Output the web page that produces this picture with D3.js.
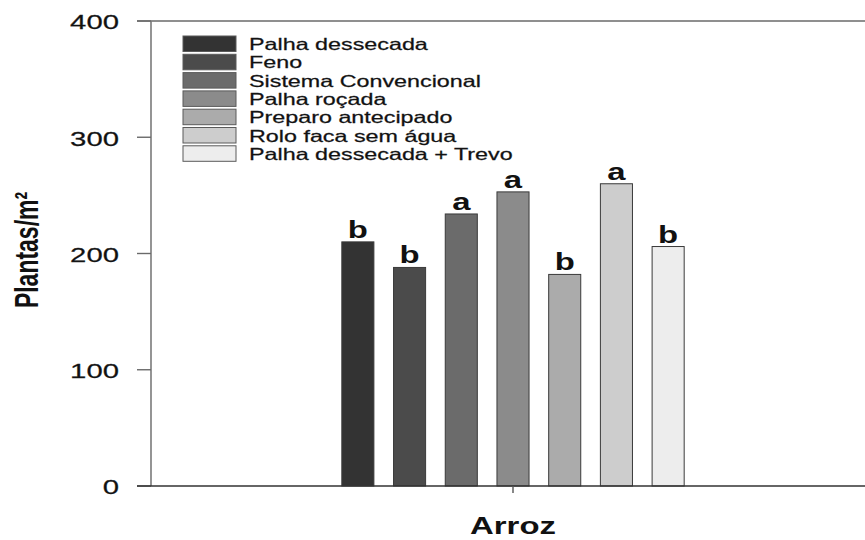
<!DOCTYPE html>
<html>
<head>
<meta charset="utf-8">
<script src="https://cdn.jsdelivr.net/npm/d3@7"></script>
<style>
  html, body { margin: 0; padding: 0; background: #fff; }
  svg { display: block; }
  text { font-family: "Liberation Sans", Arial, sans-serif; fill: #111; }
</style>
</head>
<body>
<svg id="chart" width="865" height="540"></svg>
<script>
// data
const categories = ["Arroz"];
const treatments = [
    "Palha dessecada",
    "Feno",
    "Sistema Convencional",
    "Palha roçada",
    "Preparo antecipado",
    "Rolo faca sem água",
    "Palha dessecada + Trevo"
];
const plantas = [210, 188, 234, 253, 182, 260, 206];
const letters = ["b", "b", "a", "a", "b", "a", "b"];
const yTicks = [0, 100, 200, 300, 400];
const fills = ["#333333", "#4b4b4b", "#6b6b6b", "#8b8b8b", "#ababab", "#cdcdcd", "#ededed"];

// the source picture is stretched sideways, so text is too
const SX = 1.43;
const PLOT = { left: 151, right: 875, top: 21, bottom: 486 };
const TICK = 14;

const svg = d3.select("#chart");

const y = d3.scaleLinear()
    .domain([0, 400])
    .range([PLOT.bottom, PLOT.top]);

const x0 = d3.scaleBand()
    .domain(categories)
    .range([PLOT.left, PLOT.right])
    .paddingOuter(0.5);

const x1 = d3.scaleBand()
    .domain(treatments)
    .range([0, x0.bandwidth()])
    .paddingInner(0.38)
    .paddingOuter(0.19);

const color = d3.scaleOrdinal().domain(treatments).range(fills);

const stretched = (sel, px, py) => sel
    .attr("transform", `translate(${ px }, ${ py }) scale(${ SX }, 1)`);

// frame lines
svg.append("line")
    .attr("x1", PLOT.left - TICK).attr("x2", PLOT.right)
    .attr("y1", PLOT.top).attr("y2", PLOT.top)
    .attr("stroke", "#6a6a6a").attr("stroke-width", 1.6);

// bars
const rows = treatments.map((t, i) => ({ key: t, value: plantas[i], letter: letters[i] }));

const group = svg.append("g")
    .attr("transform", `translate(${ x0("Arroz") }, 0)`);

group.selectAll("rect.bar")
    .data(rows)
    .join("rect")
    .attr("class", "bar")
    .attr("x", d => x1(d.key))
    .attr("y", d => y(d.value))
    .attr("width", x1.bandwidth())
    .attr("height", d => y(0) - y(d.value))
    .attr("fill", d => color(d.key))
    .attr("stroke", "#3a3a3a")
    .attr("stroke-width", 1);

group.selectAll("text.letter")
    .data(rows)
    .join("text")
    .attr("class", "letter")
    .attr("text-anchor", "middle")
    .attr("font-size", 23)
    .attr("font-weight", "bold")
    .each(function (d) {
        stretched(d3.select(this), x1(d.key) + x1.bandwidth() / 2, y(d.value) - 4);
    })
    .text(d => d.letter);

// y axis
svg.append("line")
    .attr("x1", PLOT.left).attr("x2", PLOT.left)
    .attr("y1", PLOT.top).attr("y2", PLOT.bottom)
    .attr("stroke", "#7a7a7a").attr("stroke-width", 1.6);

const yAxis = svg.append("g");
yAxis.selectAll("line")
    .data(yTicks)
    .join("line")
    .attr("x1", PLOT.left - TICK).attr("x2", PLOT.left)
    .attr("y1", d => y(d)).attr("y2", d => y(d))
    .attr("stroke", "#6a6a6a").attr("stroke-width", 1.4);

yAxis.selectAll("text")
    .data(yTicks)
    .join("text")
    .attr("text-anchor", "end")
    .attr("dominant-baseline", "central")
    .attr("font-size", 20.5)
    .attr("fill", "#222")
    .attr("stroke", "#222")
    .attr("stroke-width", 0.25)
    .each(function (d) {
        stretched(d3.select(this), 119, y(d) + 1);
    })
    .text(d => d);

// x axis
svg.append("line")
    .attr("x1", PLOT.left - TICK).attr("x2", PLOT.right)
    .attr("y1", PLOT.bottom).attr("y2", PLOT.bottom)
    .attr("stroke", "#333").attr("stroke-width", 1.6);

svg.append("line")
    .attr("x1", x0("Arroz") + x0.bandwidth() / 2)
    .attr("x2", x0("Arroz") + x0.bandwidth() / 2)
    .attr("y1", PLOT.bottom).attr("y2", PLOT.bottom + 7)
    .attr("stroke", "#555").attr("stroke-width", 1.4);

stretched(svg.append("text"), x0("Arroz") + x0.bandwidth() / 2, 534)
    .attr("text-anchor", "middle")
    .attr("font-size", 23)
    .attr("font-weight", "bold")
    .text("Arroz");

// y title
svg.append("text")
    .attr("transform", `translate(38, 250) scale(${ SX }, 1) rotate(-90)`)
    .attr("text-anchor", "middle")
    .attr("font-size", 23)
    .attr("font-weight", "bold")
    .text("Plantas/m²");

// legend
const LEG = { x: 183, y: 36, step: 18.3, w: 53, h: 15.5, gap: 13 };

const legend = svg.append("g")
    .attr("class", "legend")
    .attr("transform", `translate(${ LEG.x }, ${ LEG.y })`);

const cell = legend.selectAll("g.legend-cell")
    .data(treatments)
    .join("g")
    .attr("class", "legend-cell")
    .attr("transform", (d, i) => `translate(0, ${ i * LEG.step })`);

cell.append("rect")
    .attr("width", LEG.w)
    .attr("height", LEG.h)
    .attr("fill", d => color(d))
    .attr("stroke", "#5a5a5a")
    .attr("stroke-width", 1);

cell.append("text")
    .attr("font-size", 16.3)
    .attr("fill", "#1a1a1a")
    .attr("stroke", "#1a1a1a")
    .attr("stroke-width", 0.25)
    .attr("transform", `translate(${ LEG.w + LEG.gap }, ${ LEG.h - 1.5 }) scale(${ SX }, 1)`)
    .text(d => d);
</script>
</body>
</html>
